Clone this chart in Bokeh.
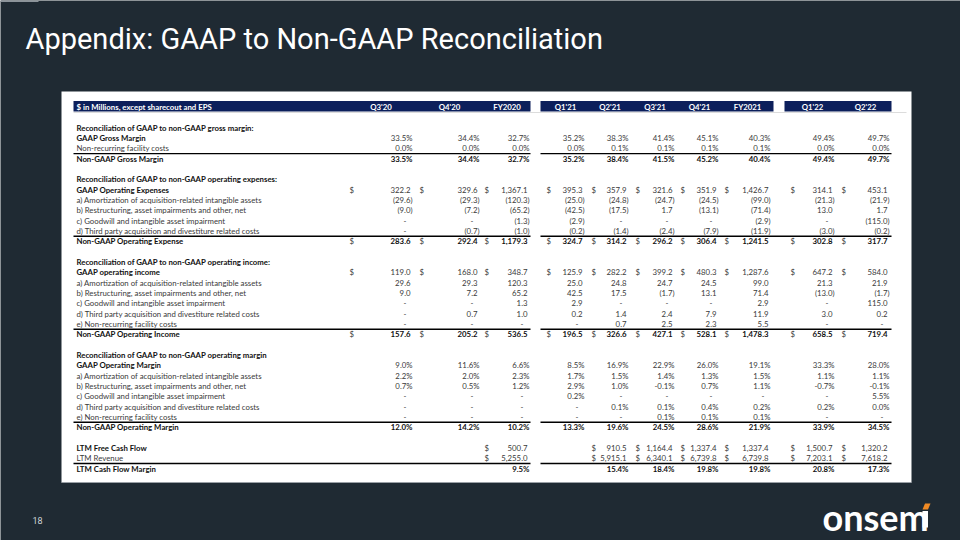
from bokeh.plotting import figure
from bokeh.models import ColumnDataSource
from bokeh.core.properties import value
from bokeh.embed import file_html
from bokeh.resources import INLINE

# ---------------- data ----------------
title_text = "Appendix: GAAP to Non-GAAP Reconciliation"
header_label = "$ in Millions, except sharecout and EPS"
columns = ["Q3'20", "Q4'20", "FY2020", "Q1'21", "Q2'21", "Q3'21", "Q4'21", "FY2021", "Q1'22", "Q2'22"]

gm_gaap = ["33.5%", "34.4%", "32.7%", "35.2%", "38.3%", "41.4%", "45.1%", "40.3%", "49.4%", "49.7%"]
gm_facility = ["0.0%", "0.0%", "0.0%", "0.0%", "0.1%", "0.1%", "0.1%", "0.1%", "0.0%", "0.0%"]
gm_nongaap = ["33.5%", "34.4%", "32.7%", "35.2%", "38.4%", "41.5%", "45.2%", "40.4%", "49.4%", "49.7%"]

opex_gaap = ["322.2", "329.6", "1,367.1", "395.3", "357.9", "321.6", "351.9", "1,426.7", "314.1", "453.1"]
opex_a = ["(29.6)", "(29.3)", "(120.3)", "(25.0)", "(24.8)", "(24.7)", "(24.5)", "(99.0)", "(21.3)", "(21.9)"]
opex_b = ["(9.0)", "(7.2)", "(65.2)", "(42.5)", "(17.5)", "1.7", "(13.1)", "(71.4)", "13.0", "1.7"]
opex_c = ["-", "-", "(1.3)", "(2.9)", "-", "-", "-", "(2.9)", "-", "(115.0)"]
opex_d = ["-", "(0.7)", "(1.0)", "(0.2)", "(1.4)", "(2.4)", "(7.9)", "(11.9)", "(3.0)", "(0.2)"]
opex_nongaap = ["283.6", "292.4", "1,179.3", "324.7", "314.2", "296.2", "306.4", "1,241.5", "302.8", "317.7"]

oi_gaap = ["119.0", "168.0", "348.7", "125.9", "282.2", "399.2", "480.3", "1,287.6", "647.2", "584.0"]
oi_a = ["29.6", "29.3", "120.3", "25.0", "24.8", "24.7", "24.5", "99.0", "21.3", "21.9"]
oi_b = ["9.0", "7.2", "65.2", "42.5", "17.5", "(1.7)", "13.1", "71.4", "(13.0)", "(1.7)"]
oi_c = ["-", "-", "1.3", "2.9", "-", "-", "-", "2.9", "-", "115.0"]
oi_d = ["-", "0.7", "1.0", "0.2", "1.4", "2.4", "7.9", "11.9", "3.0", "0.2"]
oi_e = ["-", "-", "-", "-", "0.7", "2.5", "2.3", "5.5", "-", "-"]
oi_nongaap = ["157.6", "205.2", "536.5", "196.5", "326.6", "427.1", "528.1", "1,478.3", "658.5", "719.4"]

om_gaap = ["9.0%", "11.6%", "6.6%", "8.5%", "16.9%", "22.9%", "26.0%", "19.1%", "33.3%", "28.0%"]
om_a = ["2.2%", "2.0%", "2.3%", "1.7%", "1.5%", "1.4%", "1.3%", "1.5%", "1.1%", "1.1%"]
om_b = ["0.7%", "0.5%", "1.2%", "2.9%", "1.0%", "-0.1%", "0.7%", "1.1%", "-0.7%", "-0.1%"]
om_c = ["-", "-", "-", "0.2%", "-", "-", "-", "-", "-", "5.5%"]
om_d = ["-", "-", "-", "-", "0.1%", "0.1%", "0.4%", "0.2%", "0.2%", "0.0%"]
om_e = ["-", "-", "-", "-", "-", "0.1%", "0.1%", "0.1%", "-", "-"]
om_nongaap = ["12.0%", "14.2%", "10.2%", "13.3%", "19.6%", "24.5%", "28.6%", "21.9%", "33.9%", "34.5%"]

ltm_fcf = ["", "", "500.7", "", "910.5", "1,164.4", "1,337.4", "1,337.4", "1,500.7", "1,320.2"]
ltm_rev = ["", "", "5,255.0", "", "5,915.1", "6,340.1", "6,739.8", "6,739.8", "7,203.1", "7,618.2"]
ltm_cfm = ["", "", "9.5%", "", "15.4%", "18.4%", "19.8%", "19.8%", "20.8%", "17.3%"]

NONE = [""] * 10
rows = [
    ("Reconciliation of GAAP to non-GAAP gross margin:", NONE),
    ("GAAP Gross Margin", gm_gaap),
    ("Non-recurring facility costs", gm_facility),
    ("Non-GAAP Gross Margin", gm_nongaap),
    ("", NONE),
    ("Reconciliation of GAAP to non-GAAP operating expenses:", NONE),
    ("GAAP Operating Expenses", opex_gaap),
    ("a) Amortization of acquisition-related intangible assets", opex_a),
    ("b) Restructuring, asset impairments and other, net", opex_b),
    ("c) Goodwill and intangible asset impairment", opex_c),
    ("d) Third party acquisition and divestiture related costs", opex_d),
    ("Non-GAAP Operating Expense", opex_nongaap),
    ("", NONE),
    ("Reconciliation of GAAP to non-GAAP operating income:", NONE),
    ("GAAP operating income", oi_gaap),
    ("a) Amortization of acquisition-related intangible assets", oi_a),
    ("b) Restructuring, asset impairments and other, net", oi_b),
    ("c) Goodwill and intangible asset impairment", oi_c),
    ("d) Third party acquisition and divestiture related costs", oi_d),
    ("e) Non-recurring facility costs", oi_e),
    ("Non-GAAP Operating Income", oi_nongaap),
    ("", NONE),
    ("Reconciliation of GAAP to non-GAAP operating margin", NONE),
    ("GAAP Operating Margin", om_gaap),
    ("a) Amortization of acquisition-related intangible assets", om_a),
    ("b) Restructuring, asset impairments and other, net", om_b),
    ("c) Goodwill and intangible asset impairment", om_c),
    ("d) Third party acquisition and divestiture related costs", om_d),
    ("e) Non-recurring facility costs", om_e),
    ("Non-GAAP Operating Margin", om_nongaap),
    ("", NONE),
    ("LTM Free Cash Flow", ltm_fcf),
    ("LTM Revenue", ltm_rev),
    ("LTM Cash Flow Margin", ltm_cfm),
]

# ---------------- styling / layout ----------------
bold_label_rows = {0, 1, 3, 5, 6, 11, 13, 14, 20, 22, 23, 29, 31, 33}
bold_value_rows = {3, 11, 20, 29, 33}
dollar_rows = {6, 11, 14, 20, 31, 32}
rule_after_rows = {2, 10, 19, 28, 32}

col_dollar = [349, 419, 484, 546, 591, 635, 680, 724, 790, 841]
col_right = [412, 479, 529, 584, 628, 674, 718, 770, 834, 889]
ROW0, STEP = 127.3, 10.33
LABEL_X = 76
FS = "7.8px"
FONT = value("Lato")
BG = "#1f2a33"
NAVY = "#0c1f5b"
W, H = 960, 540

def row_y(i):
    return ROW0 + i * STEP

p = figure(width=W, height=H, x_range=(0, W), y_range=(H, 0),
           output_backend="svg", toolbar_location=None, min_border=0,
           x_axis_type=None, y_axis_type=None)
p.grid.visible = False
p.outline_line_color = None
p.background_fill_color = BG
p.border_fill_color = BG

# top-left accent
p.quad(left=[0], right=[38], top=[0], bottom=[1.5], fill_color="#8c949b", line_color=None)
# title
p.text(x=[25], y=[38], text=[title_text], text_font=value("Roboto"), text_font_size="29px",
       text_color="white", text_baseline="middle", text_align="left")
# page number
p.text(x=[37], y=[520], text=["18"], text_font=value("Roboto"), text_font_size="9px",
       text_color="#d0d4d8", text_baseline="middle", text_align="center")
# logo
p.text(x=[822], y=[516], text=["onsem"], text_font=value("Lato"), text_font_size="36px",
       text_font_style="bold", text_color="white", text_baseline="middle", text_align="left")
p.quad(left=[922], right=[927.5], top=[510.5], bottom=[527], fill_color="white", line_color=None)
p.patch(x=[922, 927.5, 930, 924.5], y=[509, 509, 503, 503], fill_color="#f08a24", line_color=None)

# white panel
p.quad(left=[61], right=[911], top=[91], bottom=[482], fill_color="white", line_color=None)
p.segment(x0=[61], y0=[482], x1=[911], y1=[482], line_color="#9aa0a6", line_width=1)

# header bars
p.quad(left=[73, 540, 784], right=[530, 773, 891], top=[100.5, 100.5, 100.5],
       bottom=[111, 111, 111], fill_color=NAVY, line_color=None)
p.segment(x0=[73], y0=[112], x1=[906], y1=[112], line_color="#dcdcdc", line_width=1)
hdr_x = [(a + b) / 2 for a, b in zip(col_dollar, col_right)]
p.text(x=[LABEL_X], y=[106], text=[header_label], text_font=FONT, text_font_size=FS,
       text_font_style="bold", text_color="white", text_baseline="middle", text_align="left")
p.text(x=hdr_x, y=[106] * len(columns), text=columns, text_font=FONT, text_font_size=FS,
       text_font_style="bold", text_color="white", text_baseline="middle", text_align="center")

# table body
lab = {"b": dict(x=[], y=[], text=[]), "n": dict(x=[], y=[], text=[])}
val = {"b": dict(x=[], y=[], text=[]), "n": dict(x=[], y=[], text=[])}
dol = dict(x=[], y=[], text=[])
rules = dict(x0=[], y0=[], x1=[], y1=[])
for i, (label, vals) in enumerate(rows):
    y = row_y(i)
    if label:
        d = lab["b" if i in bold_label_rows else "n"]
        d["x"].append(LABEL_X); d["y"].append(y); d["text"].append(label)
    for j, v in enumerate(vals):
        if not v:
            continue
        if v == "-":
            x = col_right[j] - 6
        elif v[-1].isdigit():
            x = col_right[j] - 2
        else:
            x = col_right[j]
        d = val["b" if i in bold_value_rows else "n"]
        d["x"].append(x); d["y"].append(y); d["text"].append(v)
        if i in dollar_rows:
            dol["x"].append(col_dollar[j]); dol["y"].append(y); dol["text"].append("$")
    if i in rule_after_rows:
        yy = y + STEP / 2
        rules["x0"] += [73, 540]; rules["x1"] += [530, 891]
        rules["y0"] += [yy, yy]; rules["y1"] += [yy, yy]

for k, style, col in (("b", "bold", "#111111"), ("n", "normal", "#3a3a3a")):
    p.text(x="x", y="y", text="text", source=ColumnDataSource(lab[k]), text_font=FONT,
           text_font_size=FS, text_font_style=style, text_color=col,
           text_baseline="middle", text_align="left")
    p.text(x="x", y="y", text="text", source=ColumnDataSource(val[k]), text_font=FONT,
           text_font_size=FS, text_font_style=style, text_color=col,
           text_baseline="middle", text_align="right")
p.text(x="x", y="y", text="text", source=ColumnDataSource(dol), text_font=FONT,
       text_font_size=FS, text_color="#3a3a3a", text_baseline="middle", text_align="left")
p.segment(x0="x0", y0="y0", x1="x1", y1="y1", source=ColumnDataSource(rules),
          line_color="#000000", line_width=1.4)

html = file_html(p, INLINE, title="GAAP to Non-GAAP Reconciliation")
html = html.replace("<body>", '<body style="background-color:%s;">' % BG, 1)
open("out.html", "w").write(html)
